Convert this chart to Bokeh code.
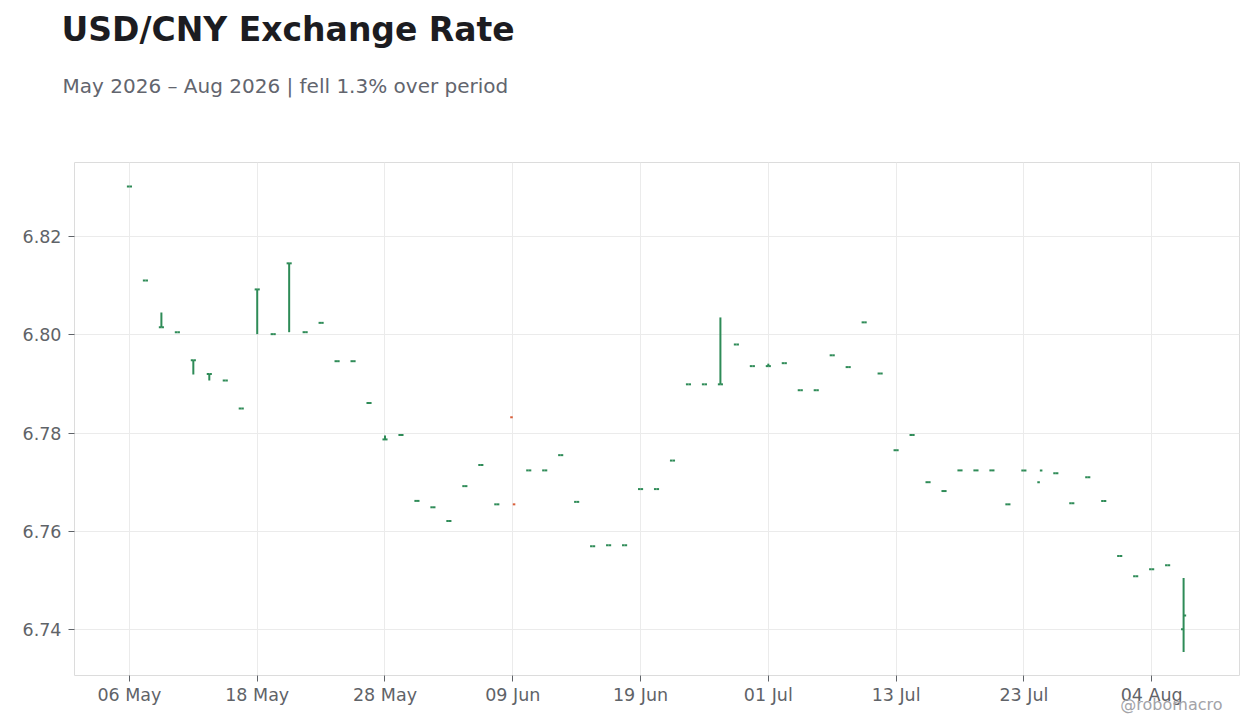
import pandas as pd
from bokeh.plotting import figure
from bokeh.models import ColumnDataSource, FixedTicker, Title
from bokeh.embed import file_html
from bokeh.resources import INLINE

# USD/CNY daily OHLC, weekdays from 06 May 2026
dates = pd.bdate_range("2026-05-06", periods=67)

opens = [6.8301, 6.8110, 6.8015, 6.8005, 6.7948, 6.7920, 6.7907, 6.7850, 6.8092, 6.8001,
         6.8145, 6.8005, 6.8024, 6.7946, 6.7946, 6.7861, 6.7787, 6.7796, 6.7662, 6.7649,
         6.7621, 6.7692, 6.7735, 6.7655, 6.7832, 6.7724, 6.7724, 6.7755, 6.7660, 6.7570,
         6.7572, 6.7572, 6.7686, 6.7686, 6.7744, 6.7899, 6.7899, 6.7899, 6.7980, 6.7936,
         6.7936, 6.7942, 6.7887, 6.7887, 6.7958, 6.7934, 6.8025, 6.7921, 6.7765, 6.7796,
         6.7700, 6.7682, 6.7724, 6.7724, 6.7724, 6.7655, 6.7724, 6.7700, 6.7718, 6.7657,
         6.7710, 6.7662, 6.7550, 6.7509, 6.7523, 6.7531, 6.7401]
highs = [6.8301, 6.8110, 6.8045, 6.8005, 6.7948, 6.7920, 6.7907, 6.7850, 6.8092, 6.8001,
         6.8145, 6.8005, 6.8024, 6.7946, 6.7946, 6.7861, 6.7795, 6.7796, 6.7662, 6.7649,
         6.7621, 6.7692, 6.7735, 6.7655, 6.7655, 6.7724, 6.7724, 6.7755, 6.7660, 6.7570,
         6.7572, 6.7572, 6.7686, 6.7686, 6.7744, 6.7899, 6.7899, 6.8035, 6.7980, 6.7936,
         6.7941, 6.7942, 6.7887, 6.7887, 6.7958, 6.7934, 6.8025, 6.7921, 6.7765, 6.7796,
         6.7700, 6.7682, 6.7724, 6.7724, 6.7724, 6.7655, 6.7724, 6.7724, 6.7718, 6.7657,
         6.7710, 6.7662, 6.7550, 6.7509, 6.7523, 6.7531, 6.7505]
lows = [6.8301, 6.8110, 6.8015, 6.8005, 6.7919, 6.7907, 6.7907, 6.7850, 6.8001, 6.8001,
        6.8005, 6.8005, 6.8024, 6.7946, 6.7946, 6.7861, 6.7787, 6.7796, 6.7662, 6.7649,
        6.7621, 6.7692, 6.7735, 6.7655, 6.7655, 6.7724, 6.7724, 6.7755, 6.7660, 6.7570,
        6.7572, 6.7572, 6.7686, 6.7686, 6.7744, 6.7899, 6.7899, 6.7899, 6.7980, 6.7936,
        6.7936, 6.7942, 6.7887, 6.7887, 6.7958, 6.7934, 6.8025, 6.7921, 6.7765, 6.7796,
        6.7700, 6.7682, 6.7724, 6.7724, 6.7724, 6.7655, 6.7724, 6.7724, 6.7718, 6.7657,
        6.7710, 6.7662, 6.7550, 6.7509, 6.7523, 6.7531, 6.7355]
closes = [6.8301, 6.8110, 6.8015, 6.8005, 6.7948, 6.7920, 6.7907, 6.7850, 6.8092, 6.8001,
          6.8145, 6.8005, 6.8024, 6.7946, 6.7946, 6.7861, 6.7787, 6.7796, 6.7662, 6.7649,
          6.7621, 6.7692, 6.7735, 6.7655, 6.7655, 6.7724, 6.7724, 6.7755, 6.7660, 6.7570,
          6.7572, 6.7572, 6.7686, 6.7686, 6.7744, 6.7899, 6.7899, 6.7899, 6.7980, 6.7936,
          6.7936, 6.7942, 6.7887, 6.7887, 6.7958, 6.7934, 6.8025, 6.7921, 6.7765, 6.7796,
          6.7700, 6.7682, 6.7724, 6.7724, 6.7724, 6.7655, 6.7724, 6.7724, 6.7718, 6.7657,
          6.7710, 6.7662, 6.7550, 6.7509, 6.7523, 6.7531, 6.7429]

tick_idx = [0, 8, 16, 24, 32, 40, 48, 56, 64]
y_ticks = [6.74, 6.76, 6.78, 6.80, 6.82]

UP = "#2e8b57"
DOWN = "#d95f3b"
FONT = "DejaVu Sans"

df = pd.DataFrame({"open": opens, "high": highs, "low": lows, "close": closes})
df["x"] = range(len(df))
df["xl"] = df["x"] - 0.16
df["xr"] = df["x"] + 0.16
df["color"] = [UP if c >= o else DOWN for o, c in zip(opens, closes)]
src = ColumnDataSource(df)

p = figure(width=1252, height=720, output_backend="svg", toolbar_location=None, title=None,
           x_range=(-3.44, 69.5), y_range=(6.7307, 6.8350),
           min_border_left=74, min_border_right=13, min_border_top=162, min_border_bottom=45)
p.background_fill_color = "white"
p.border_fill_color = "white"
p.outline_line_color = "#dcdcdc"
p.outline_line_width = 1

# high-low line, open tick (left), close tick (right)
p.segment("x", "low", "x", "high", source=src, color="color", line_width=2)
p.segment("xl", "open", "x", "open", source=src, color="color", line_width=2)
p.segment("x", "close", "xr", "close", source=src, color="color", line_width=2)

p.xaxis.ticker = FixedTicker(ticks=tick_idx)
p.xaxis.major_label_overrides = {i: dates[i].strftime("%d %b") for i in tick_idx}
p.yaxis.ticker = FixedTicker(ticks=y_ticks)
p.yaxis.major_label_overrides = {v: f"{v:.2f}" for v in y_ticks}

for ax in (p.xaxis, p.yaxis):
    ax.axis_line_color = None
    ax.major_tick_line_color = "#5f6368"
    ax.major_tick_out = 6
    ax.major_tick_in = 0
    ax.minor_tick_line_color = None
    ax.major_label_text_font = FONT
    ax.major_label_text_font_size = "17.5px"
    ax.major_label_text_color = "#5f6368"
p.yaxis.major_label_standoff = 7
p.xaxis.major_label_standoff = 3

p.xgrid.grid_line_color = "#ebebeb"
p.ygrid.grid_line_color = "#ebebeb"

# header: panels stack outward from the frame (gap, subtitle, gap, title)
gap_low = Title(text=" ", text_font_size="2px", standoff=61)
subtitle = Title(text="May 2026 \u2013 Aug 2026 | fell 1.3% over period", align="left", offset=-12,
                 text_font=FONT, text_font_size="20px", text_font_style="normal",
                 text_color="#62656e", standoff=0)
gap_high = Title(text=" ", text_font_size="2px", standoff=19)
title = Title(text="USD/CNY Exchange Rate", align="left", offset=-13,
              text_font=FONT, text_font_size="33px", text_font_style="bold",
              text_color="#1c1c21", standoff=0)
for t in (gap_low, subtitle, gap_high, title):
    p.add_layout(t, "above")

credit = Title(text="@robomacro", align="right", offset=17, vertical_align="top",
               text_font=FONT, text_font_size="16px", text_font_style="normal",
               text_color="#a3a3a8", standoff=-26)
p.add_layout(credit, "below")

open("out.html", "w").write(file_html(p, INLINE))
